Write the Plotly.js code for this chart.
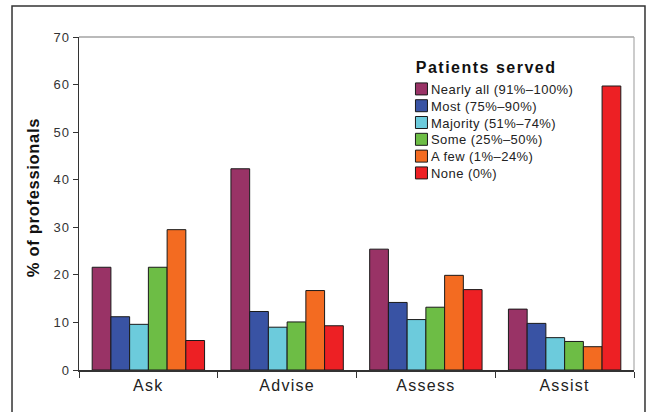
<!DOCTYPE html>
<html>
<head>
<meta charset="utf-8">
<script src="https://cdn.plot.ly/plotly-3.0.1.min.js"></script>
<style>
html,body{margin:0;padding:0;background:#fff;}
#chart{width:647px;height:412px;}
#chart .legendtext{letter-spacing:0.45px;}
#chart .ytitle{letter-spacing:0.7px;}
#chart .xtick text{letter-spacing:1.3px;}
#chart .ytick text{letter-spacing:1px;}
#chart .annotation-text{letter-spacing:1.5px;}
</style>
</head>
<body>
<div id="chart"></div>
<script>
const categories = ["Ask", "Advise", "Assess", "Assist"];
const seriesNames = ["Nearly all (91%\u2013100%)", "Most (75%\u201390%)", "Majority (51%\u201374%)", "Some (25%\u201350%)", "A few (1%\u201324%)", "None (0%)"];
const nearlyAll = [21.6, 42.3, 25.4, 12.8];
const most = [11.2, 12.3, 14.2, 9.8];
const majority = [9.6, 9.0, 10.6, 6.8];
const some = [21.6, 10.1, 13.2, 6.0];
const aFew = [29.5, 16.7, 19.9, 4.9];
const none = [6.2, 9.3, 16.9, 59.7];
const yTicks = [0, 10, 20, 30, 40, 50, 60, 70];
const legendTitle = "Patients served";
const yTitle = "% of professionals";

const seriesValues = [nearlyAll, most, majority, some, aFew, none];
const colors = ["#993366", "#3953a4", "#6ccbdc", "#6dbd45", "#f36b21", "#ed2024"];

const traces = seriesValues.map((vals, i) => ({
  type: "bar",
  name: seriesNames[i],
  x: categories,
  y: vals,
  marker: {color: colors[i], line: {color: "#1a1a1a", width: 1}}
}));

const layout = {
  width: 647, height: 412,
  margin: {l: 79, r: 13, t: 37, b: 42},
  paper_bgcolor: "#ffffff",
  plot_bgcolor: "#ffffff",
  barmode: "group",
  bargap: 0.19,
  bargroupgap: 0,
  font: {family: "Liberation Sans, Arial, sans-serif", color: "#222"},
  showlegend: true,
  legend: {
    x: 0.581, y: 0.889, xanchor: "left", yanchor: "top",
    bgcolor: "rgba(0,0,0,0)",
    font: {size: 13, color: "#222", family: "Liberation Sans, Arial, sans-serif"},
    traceorder: "normal",
    itemwidth: 30
  },
  annotations: [
    {xref: "paper", yref: "paper", x: (424.5 - 79) / 555, y: (370 - 67.5) / 333,
     xanchor: "left", yanchor: "middle", showarrow: false,
     text: "<b>" + legendTitle + "</b>", font: {size: 16, color: "#111"}}
  ],
  xaxis: {
    type: "category",
    tickson: "boundaries",
    ticks: "outside", ticklen: 6, tickcolor: "#333", tickwidth: 1,
    showline: true, linecolor: "#333", linewidth: 1.5,
    showgrid: false,
    tickfont: {size: 16, color: "#222"},
    fixedrange: true
  },
  yaxis: {
    range: [0, 70],
    tickvals: yTicks,
    ticks: "outside", ticklen: 5, tickcolor: "#333", tickwidth: 1,
    showline: true, linecolor: "#333", linewidth: 1.5,
    showgrid: false, zeroline: false,
    tickfont: {size: 13, color: "#333"},
    title: {text: "<b>" + yTitle + "</b>", font: {size: 16.5, color: "#111"}, standoff: 11},
    fixedrange: true
  },
  shapes: [
    {type: "line", xref: "paper", yref: "paper", x0: 0, x1: 1, y0: 1, y1: 1, line: {color: "#777", width: 1.2}},
    {type: "line", xref: "paper", yref: "paper", x0: 1, x1: 1, y0: 0, y1: 1, line: {color: "#aaa", width: 1.2}},
    {type: "rect", xref: "paper", yref: "paper", x0: -0.1207, x1: 1.0198, y0: -0.2, y1: 1.0931, line: {color: "#333", width: 1.5}, fillcolor: "rgba(0,0,0,0)", layer: "below"}
  ]
};

Plotly.newPlot("chart", traces, layout, {displayModeBar: false, staticPlot: true}).then(gd => {
  // tighten legend rows and swatch-to-text gap to match the original figure
  const groups = gd.querySelectorAll(".legend .traces");
  let y0 = null;
  groups.forEach((g, i) => {
    const m = /translate\(\s*([-\d.]+)[ ,]+([-\d.]+)\s*\)/.exec(g.getAttribute("transform") || "");
    if (!m) return;
    const tx = parseFloat(m[1]), ty = parseFloat(m[2]);
    if (y0 === null) y0 = ty;
    g.setAttribute("transform", "translate(" + tx + "," + (y0 + i * 16.8) + ")");
    const t = g.querySelector(".legendtext");
    if (t) t.setAttribute("x", parseFloat(t.getAttribute("x")) - 10.5);
  });
  const yt = gd.querySelector(".ytitle");
  if (yt) yt.setAttribute("transform", "translate(0,-6) " + (yt.getAttribute("transform") || ""));
});
</script>
</body>
</html>
